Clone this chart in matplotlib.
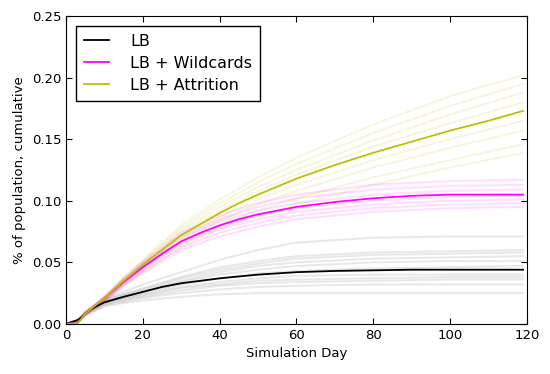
import matplotlib
matplotlib.use("Agg")
import matplotlib.pyplot as plt

mean_days = [0, 2, 3, 4, 5, 6, 8, 10, 15, 20, 25, 30, 35, 40, 45, 50, 60, 70, 80, 90, 100, 110, 119]
lb_mean = [0, .002, .003, .005, .008, .011, .0145, .0175, .022, .026, .030, .033, .035, .037,
           .0385, .040, .042, .043, .0435, .044, .044, .044, .044]
wild_mean = [0, .0005, .001, .004, .008, .011, .016, .021, .034, .046, .057, .067, .074, .080,
             .085, .089, .095, .099, .102, .104, .105, .105, .105]
attr_mean = [0, .0003, .001, .004, .008, .011, .016, .021, .035, .048, .060, .072, .081, .090,
             .098, .105, .118, .129, .139, .148, .157, .165, .173]

# individual runs (faint), coarser sampling
run_days = [0, 3, 5, 10, 15, 20, 30, 40, 50, 60, 80, 100, 119]
lb_runs = [
    [0, .003, .010, .020, .026, .032, .042, .052, .060, .066, .070, .071, .071],
    [0, .003, .009, .019, .024, .029, .038, .046, .051, .055, .058, .059, .060],
    [0, .003, .009, .019, .024, .028, .037, .044, .049, .053, .056, .057, .058],
    [0, .003, .009, .018, .023, .027, .035, .042, .047, .050, .053, .054, .055],
    [0, .003, .009, .018, .022, .026, .034, .040, .044, .047, .050, .051, .051],
    [0, .003, .008, .017, .021, .025, .032, .037, .041, .043, .045, .046, .047],
    [0, .003, .008, .017, .021, .024, .030, .034, .037, .039, .040, .040, .040],
    [0, .003, .008, .016, .020, .023, .029, .032, .035, .036, .037, .038, .038],
    [0, .003, .008, .016, .019, .022, .027, .031, .033, .034, .035, .036, .036],
    [0, .002, .007, .015, .018, .021, .025, .028, .030, .031, .032, .032, .032],
    [0, .002, .007, .014, .017, .019, .022, .024, .025, .025, .025, .025, .025],
]
wild_runs = [
    [0, .001, .009, .022, .037, .050, .074, .088, .098, .105, .113, .116, .117],
    [0, .001, .009, .021, .036, .049, .072, .085, .095, .102, .109, .112, .113],
    [0, .001, .008, .021, .035, .048, .070, .083, .092, .098, .105, .108, .109],
    [0, .001, .008, .020, .034, .046, .067, .079, .088, .094, .100, .103, .104],
    [0, .001, .008, .020, .033, .045, .065, .077, .085, .091, .097, .100, .101],
    [0, .001, .008, .019, .032, .043, .062, .074, .082, .088, .094, .097, .098],
    [0, .001, .007, .018, .031, .041, .060, .071, .079, .085, .091, .094, .095],
]
attr_runs = [
    [0, .001, .009, .022, .038, .052, .080, .101, .119, .135, .162, .185, .202],
    [0, .001, .009, .022, .037, .051, .078, .098, .115, .130, .155, .177, .195],
    [0, .001, .009, .021, .036, .050, .076, .095, .111, .125, .149, .170, .188],
    [0, .001, .008, .021, .035, .048, .074, .092, .108, .121, .144, .163, .180],
    [0, .001, .008, .020, .034, .046, .070, .087, .101, .113, .133, .150, .165],
    [0, .001, .008, .019, .033, .045, .068, .084, .097, .108, .127, .143, .157],
    [0, .001, .008, .019, .032, .043, .065, .080, .092, .102, .119, .133, .146],
    [0, .001, .007, .018, .031, .042, .063, .077, .088, .097, .113, .127, .139],
]

BLACK, MAGENTA, OLIVE = "black", "#ff00ff", "#bfbf00"

plt.rcParams.update({
    "font.family": "DejaVu Sans",
    "font.size": 9.5,
    "xtick.direction": "in",
    "ytick.direction": "in",
    "xtick.top": True,
    "ytick.right": True,
    "xtick.major.size": 4,
    "ytick.major.size": 4,
})

fig = plt.figure(figsize=(5.5, 3.74), dpi=100)
ax = fig.add_axes([0.12, 0.134, 0.838, 0.823])

for r in lb_runs:
    ax.plot(run_days, r, color="#999999", alpha=0.22, lw=1.5)
for r in attr_runs:
    ax.plot(run_days, r, color=OLIVE, alpha=0.13, lw=1.5)
for r in wild_runs:
    ax.plot(run_days, r, color=MAGENTA, alpha=0.13, lw=1.5)

ax.plot(mean_days, lb_mean, color=BLACK, lw=1.3, label="LB")
ax.plot(mean_days, wild_mean, color=MAGENTA, lw=1.3, label="LB + Wildcards")
ax.plot(mean_days, attr_mean, color=OLIVE, lw=1.3, label="LB + Attrition")

ax.set_xlim(0, 120)
ax.set_ylim(0, 0.25)
ax.set_xticks([0, 20, 40, 60, 80, 100, 120])
ax.set_yticks([0, 0.05, 0.10, 0.15, 0.20, 0.25])
ax.set_yticklabels(["0.00", "0.05", "0.10", "0.15", "0.20", "0.25"])
ax.set_xlabel("Simulation Day")
ax.set_ylabel("% of population, cumulative")

leg = ax.legend(loc="upper left", fontsize=11.5, fancybox=False, framealpha=1,
                edgecolor="black", handlelength=1.6, handletextpad=1.3,
                borderpad=0.5, borderaxespad=0.6, labelspacing=0.45)
leg.get_frame().set_linewidth(1.0)

fig.savefig("out.png", dpi=100)
